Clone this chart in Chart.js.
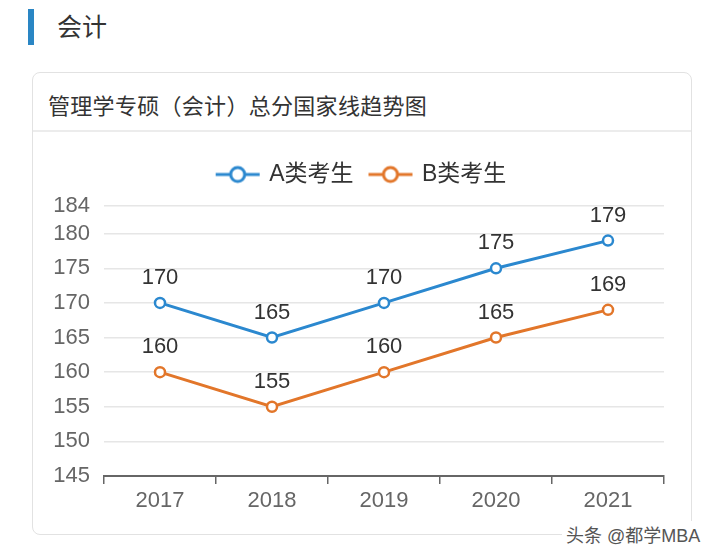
<!DOCTYPE html>
<html>
<head>
<meta charset="utf-8">
<script src="https://cdn.jsdelivr.net/npm/chart.js@4/dist/chart.umd.min.js"></script>
<style>
  html, body { margin: 0; padding: 0; background: #fff; }
  body { width: 720px; height: 558px; position: relative; overflow: hidden;
         font-family: "Liberation Sans", "Noto Sans CJK SC", sans-serif; }
  .bar { position: absolute; left: 28px; top: 9px; width: 6px; height: 36px; background: #2a86c4; }
  .head { position: absolute; left: 57px; top: 7px; font-size: 25px; color: #333; }
  .card { position: absolute; left: 32px; top: 72px; width: 658px; height: 461px;
          border: 1.5px solid #e2e2e2; border-radius: 8px; }
  .title { position: absolute; left: 48px; top: 88px; font-size: 22px; color: #333; letter-spacing: 0.3px; }
  .sep { position: absolute; left: 33px; top: 130px; width: 658px; height: 2px; background: #ececec; }
  .wrap { position: absolute; left: 33px; top: 132px; width: 658px; height: 400px; }
  .mark { position: absolute; left: 562px; top: 521px; font-size: 18px; color: #555;
          background: #fff; padding: 0 4px; }
</style>
</head>
<body>
<div class="bar"></div>
<div class="head">会计</div>
<div class="card"></div>
<div class="title">管理学专硕（会计）总分国家线趋势图</div>
<div class="sep"></div>
<div class="wrap"><canvas id="chart" width="658" height="400"></canvas></div>
<div class="mark">头条 @都学MBA</div>

<script>
const years = ['2017', '2018', '2019', '2020', '2021'];
const scoresA = [170, 165, 170, 175, 179];
const scoresB = [160, 155, 160, 165, 169];
const seriesNames = ['A类考生', 'B类考生'];
const yMin = 145;
const yMax = 184;

const blue = '#2b88cf';
const orange = '#e2762a';
const font = '"Liberation Sans", "Noto Sans CJK SC", sans-serif';

// legend marker: short line with a hollow circle
function legendIcon(color) {
  const c = document.createElement('canvas');
  c.width = 46; c.height = 20;
  const g = c.getContext('2d');
  g.strokeStyle = color;
  g.lineWidth = 3;
  g.beginPath(); g.moveTo(1, 10); g.lineTo(45, 10); g.stroke();
  g.fillStyle = '#fff';
  g.beginPath(); g.arc(23, 10, 7, 0, Math.PI * 2); g.fill(); g.stroke();
  return c;
}

// extra room under the legend, and center it on the whole card
const legendGap = {
  id: 'legendGap',
  beforeInit(chart) {
    const fit = chart.legend.fit;
    chart.legend.fit = function () {
      fit.bind(chart.legend)();
      this.height += 10;
    };
  },
  afterLayout(chart) {
    chart.legend.right += 27;
    chart.legend.width += 27;
  }
};

const valueLabels = {
  id: 'valueLabels',
  afterDatasetsDraw(chart) {
    const ctx = chart.ctx;
    ctx.save();
    ctx.font = '22px ' + font;
    ctx.fillStyle = '#333';
    ctx.textAlign = 'center';
    ctx.textBaseline = 'middle';
    chart.data.datasets.forEach((ds, i) => {
      chart.getDatasetMeta(i).data.forEach((pt, j) => {
        ctx.fillText(ds.data[j], pt.x, pt.y - 25);
      });
    });
    ctx.restore();
  }
};

new Chart(document.getElementById('chart'), {
  type: 'line',
  data: {
    labels: years,
    datasets: [{
      label: seriesNames[0],
      data: scoresA,
      borderColor: blue,
      backgroundColor: '#fff',
      borderWidth: 3,
      pointRadius: 5,
      pointBorderWidth: 2.5
    }, {
      label: seriesNames[1],
      data: scoresB,
      borderColor: orange,
      backgroundColor: '#fff',
      borderWidth: 3,
      pointRadius: 5,
      pointBorderWidth: 2.5
    }]
  },
  options: {
    responsive: false,
    animation: false,
    layout: { padding: { top: 14, right: 27, left: 0, bottom: 0 } },
    plugins: {
      tooltip: { enabled: false },
      legend: {
        labels: {
          usePointStyle: true,
          pointStyleWidth: 40,
          boxHeight: 20,
          color: '#333',
          font: { size: 23, family: font },
          padding: 17,
          generateLabels(chart) {
            return chart.data.datasets.map((ds, i) => ({
              text: ds.label,
              pointStyle: legendIcon(ds.borderColor),
              fontColor: '#333',
              datasetIndex: i,
              lineWidth: 0,
              strokeStyle: ds.borderColor,
              fillStyle: '#fff'
            }));
          }
        }
      }
    },
    scales: {
      x: {
        offset: true,
        grid: { offset: true, drawOnChartArea: false, drawTicks: true, tickLength: 8, color: '#666', lineWidth: 1.5 },
        border: { color: '#666', width: 2 },
        ticks: { color: '#666', font: { size: 22, family: font }, padding: 4 },
        afterFit(scale) { scale.height = 56; }
      },
      y: {
        min: yMin,
        max: yMax,
        ticks: { stepSize: 5, color: '#666', font: { size: 22, family: font }, padding: 14 },
        grid: { color: '#e6e6e6', lineWidth: 1.5, drawTicks: false },
        border: { display: false },
        afterFit(scale) { scale.width = 71; }
      }
    }
  },
  plugins: [legendGap, valueLabels]
});
</script>
</body>
</html>
